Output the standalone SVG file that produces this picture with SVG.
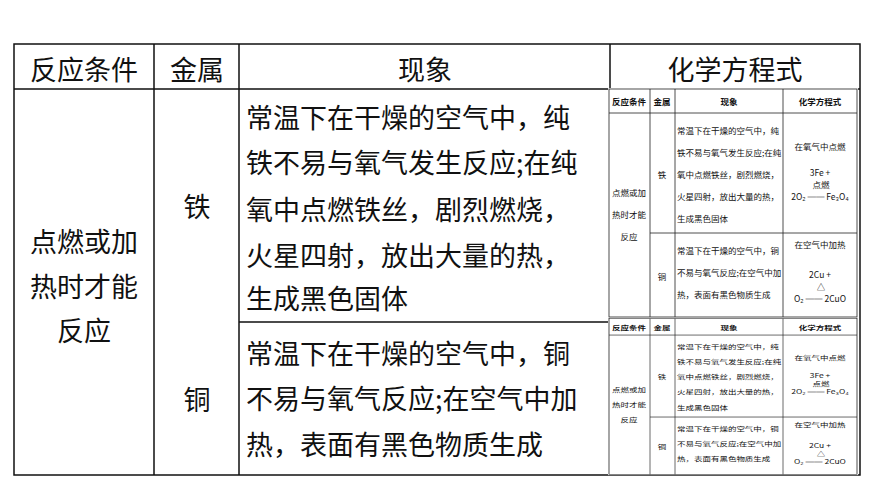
<svg xmlns="http://www.w3.org/2000/svg" width="870" height="489" viewBox="0 0 870 489">
<style>
.t{font-family:"Noto Sans CJK SC",sans-serif;font-size:27px;fill:#111}
.m{font-family:"Noto Sans CJK SC",sans-serif;font-size:8.5px;fill:#111}
.mb{font-family:"Noto Sans CJK SC",sans-serif;font-size:8.5px;font-weight:bold;fill:#111}
.c{text-anchor:middle}
.ln{stroke:#111;stroke-width:1.5;fill:none}
.ml{stroke:#222;stroke-width:0.8;fill:none}
</style>
<defs>
<g id="mini">
<rect x="0" y="0" width="250" height="230" fill="#fff"/>
<rect x="1" y="1" width="248" height="228" class="ml" stroke-width="1.5"/>
<path class="ml" d="M1 25H249M42 1V229M67 1V229M175 1V229M42 145H249"/>
<text class="mb c" x="21" y="17">反应条件</text>
<text class="mb c" x="54" y="17">金属</text>
<text class="mb c" x="121" y="17">现象</text>
<text class="mb c" x="212" y="17">化学方程式</text>
<text class="m c" x="21" y="108">点燃或加</text>
<text class="m c" x="21" y="130">热时才能</text>
<text class="m c" x="21" y="152">反应</text>
<text class="m c" x="54" y="90">铁</text>
<text class="m c" x="54" y="192">铜</text>
<text class="m" x="69" y="46">常温下在干燥的空气中，纯</text>
<text class="m" x="69" y="68">铁不易与氧气发生反应;在纯</text>
<text class="m" x="69" y="90">氧中点燃铁丝，剧烈燃烧，</text>
<text class="m" x="69" y="112">火星四射，放出大量的热，</text>
<text class="m" x="69" y="134">生成黑色固体</text>
<text class="m" x="69" y="166">常温下在干燥的空气中，铜</text>
<text class="m" x="69" y="188">不易与氧气反应;在空气中加</text>
<text class="m" x="69" y="210">热，表面有黑色物质生成</text>
<text class="m c" x="212" y="62">在氧气中点燃</text>
<text class="m c" x="212" y="88">3Fe +</text>
<text class="m c" x="213" y="100" font-size="5">点燃</text>
<text class="m c" x="212" y="112">2O₂ ══ Fe₃O₄</text>
<text class="m c" x="212" y="160">在空气中加热</text>
<text class="m c" x="212" y="190">2Cu +</text>
<text class="m c" x="213" y="202" font-size="6">△</text>
<text class="m c" x="212" y="214">O₂ ══ 2CuO</text>
</g>
</defs>
<rect width="870" height="489" fill="#fff"/>
<g id="table">
<rect x="14" y="44" width="846" height="431" class="ln"/>
<path class="ln" d="M14 89H860M154 44V475M239 44V475M610 44V475M239 322H610"/>
</g>
<g id="header">
<text class="t c" x="84" y="80">反应条件</text>
<text class="t c" x="197" y="80">金属</text>
<text class="t c" x="425" y="80">现象</text>
<text class="t c" x="735" y="80">化学方程式</text>
</g>
<g id="cond"><text class="t c" x="84" y="252">点燃或加</text><text class="t c" x="84" y="297">热时才能</text><text class="t c" x="84" y="341">反应</text></g>
<g id="fe">
<text class="t c" x="197" y="217">铁</text>
<text class="t" x="246" y="128">常温下在干燥的空气中，纯</text>
<text class="t" x="246" y="173">铁不易与氧气发生反应;在纯</text>
<text class="t" x="246" y="220">氧中点燃铁丝，剧烈燃烧，</text>
<text class="t" x="246" y="266">火星四射，放出大量的热，</text>
<text class="t" x="246" y="309">生成黑色固体</text>
</g>
<g id="cu">
<text class="t c" x="197" y="410">铜</text>
<text class="t" x="246" y="364">常温下在干燥的空气中，铜</text>
<text class="t" x="246" y="409">不易与氧气反应;在空气中加</text>
<text class="t" x="246" y="455">热，表面有黑色物质生成</text>
</g>
<g id="minis">
<use href="#mini" x="608" y="88"/>
<g transform="translate(608,318) scale(1,0.683)"><use href="#mini"/></g>
</g>
</svg>
